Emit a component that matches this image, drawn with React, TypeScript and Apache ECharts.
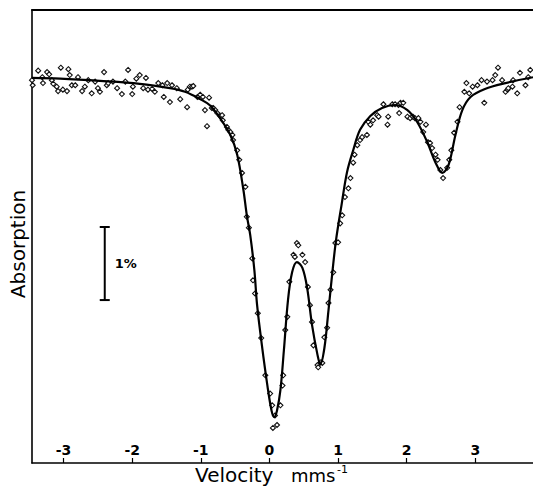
import React, { useEffect, useRef } from "react";
import * as echarts from "echarts";

// Velocity (mm/s) tick values
const velocityTicks = [-3, -2, -1, 0, 1, 2, 3];

// Fitted curve: [velocity mm/s, absorption %]
const fitCurve: [number, number][] = [
  [-3.46, 0.0], [-3.05, 0.01], [-2.47, 0.04], [-1.89, 0.08], [-1.45, 0.14],
  [-1.23, 0.19], [-1.01, 0.29], [-0.86, 0.38], [-0.72, 0.55], [-0.57, 0.78],
  [-0.47, 1.05], [-0.38, 1.53], [-0.33, 1.88], [-0.28, 2.15], [-0.22, 2.63],
  [-0.18, 3.11], [-0.11, 3.66], [-0.03, 4.21], [0.03, 4.55], [0.07, 4.64],
  [0.11, 4.55], [0.16, 4.27], [0.21, 3.73], [0.27, 3.04], [0.33, 2.66],
  [0.40, 2.52], [0.48, 2.60], [0.55, 2.88], [0.62, 3.38], [0.70, 3.79],
  [0.74, 3.92], [0.80, 3.70], [0.86, 3.18], [0.92, 2.63], [0.97, 2.22],
  [1.05, 1.74], [1.13, 1.29], [1.22, 0.99], [1.32, 0.71], [1.47, 0.52],
  [1.64, 0.41], [1.83, 0.37], [2.01, 0.44], [2.15, 0.60], [2.30, 0.88],
  [2.42, 1.16], [2.52, 1.30], [2.61, 1.19], [2.71, 0.78], [2.81, 0.44],
  [2.93, 0.26], [3.14, 0.15], [3.44, 0.07], [3.84, -0.01],
];

// Measured points: [velocity mm/s, absorption %]
const measured: [number, number][] = [
  [-3.46, 0.03], [-3.45, 0.10], [-3.37, -0.10], [-3.31, -0.01], [-3.30, 0.07],
  [-3.24, -0.08], [-3.21, -0.05], [-3.17, 0.03], [-3.15, 0.08], [-3.10, 0.12],
  [-3.08, 0.18], [-3.04, -0.14], [-3.01, 0.16], [-2.95, 0.18], [-2.93, -0.12],
  [-2.91, -0.04], [-2.88, 0.10], [-2.83, 0.10], [-2.79, -0.01], [-2.73, 0.18],
  [-2.69, 0.12], [-2.64, 0.03], [-2.59, 0.21], [-2.54, 0.05], [-2.50, 0.14],
  [-2.47, 0.19], [-2.41, -0.08], [-2.37, 0.10], [-2.35, 0.07], [-2.28, 0.05],
  [-2.22, 0.14], [-2.15, 0.22], [-2.10, 0.05], [-2.06, -0.11], [-2.00, 0.22],
  [-1.99, 0.12], [-1.94, 0.01], [-1.89, -0.04], [-1.84, 0.14], [-1.80, 0.00],
  [-1.77, 0.16], [-1.71, 0.15], [-1.67, 0.19], [-1.62, 0.07], [-1.56, 0.10],
  [-1.54, 0.26], [-1.49, 0.07], [-1.45, 0.33], [-1.42, 0.10], [-1.35, 0.14],
  [-1.30, 0.29], [-1.20, 0.40], [-1.19, 0.16], [-1.16, 0.12], [-1.13, 0.12],
  [-1.11, 0.11], [-1.05, 0.26], [-1.01, 0.23], [-0.97, 0.26], [-0.94, 0.44],
  [-0.91, 0.66], [-0.88, 0.27], [-0.84, 0.41], [-0.82, 0.41], [-0.79, 0.44],
  [-0.76, 0.48], [-0.72, 0.52], [-0.69, 0.51], [-0.68, 0.58], [-0.62, 0.67],
  [-0.60, 0.71], [-0.57, 0.74], [-0.54, 0.78], [-0.53, 0.85], [-0.47, 0.99],
  [-0.44, 1.12], [-0.40, 1.30], [-0.35, 1.49], [-0.33, 1.90], [-0.30, 2.05],
  [-0.25, 2.47], [-0.24, 2.77], [-0.21, 2.95], [-0.17, 3.22], [-0.12, 3.56],
  [-0.06, 4.07], [0.01, 4.32], [0.04, 4.48], [0.08, 4.62], [0.11, 4.75],
  [0.05, 4.79], [0.16, 4.48], [0.19, 4.21], [0.20, 4.07], [0.23, 3.45],
  [0.26, 3.27], [0.29, 2.79], [0.35, 2.42], [0.37, 2.45], [0.40, 2.26],
  [0.42, 2.29], [0.48, 2.42], [0.52, 2.52], [0.56, 2.86], [0.59, 3.11],
  [0.62, 3.34], [0.64, 3.66], [0.70, 3.93], [0.71, 3.96], [0.75, 3.89],
  [0.77, 3.90], [0.80, 3.55], [0.84, 3.42], [0.86, 3.08], [0.89, 2.90],
  [0.93, 2.66], [0.96, 2.26], [1.00, 2.25], [1.03, 1.99], [1.06, 1.88],
  [1.10, 1.63], [1.15, 1.51], [1.18, 1.37], [1.22, 1.16], [1.24, 1.05],
  [1.28, 0.92], [1.32, 0.85], [1.35, 0.81], [1.42, 0.78], [1.44, 0.60],
  [1.47, 0.64], [1.51, 0.58], [1.57, 0.51], [1.59, 0.53], [1.66, 0.36],
  [1.72, 0.64], [1.73, 0.53], [1.79, 0.36], [1.83, 0.36], [1.88, 0.37],
  [1.89, 0.48], [1.91, 0.34], [1.95, 0.34], [2.01, 0.53], [2.05, 0.55],
  [2.09, 0.53], [2.12, 0.55], [2.17, 0.55], [2.20, 0.60], [2.24, 0.74],
  [2.28, 0.64], [2.31, 0.88], [2.34, 0.89], [2.37, 0.96], [2.42, 1.05],
  [2.45, 1.12], [2.49, 1.26], [2.53, 1.37], [2.59, 1.23], [2.62, 1.12],
  [2.65, 0.99], [2.69, 0.75], [2.74, 0.60], [2.77, 0.40], [2.84, 0.19],
  [2.87, 0.07], [2.91, 0.21], [2.96, 0.12], [3.03, 0.10], [3.09, 0.03],
  [3.13, 0.34], [3.17, 0.05], [3.25, 0.03], [3.29, -0.04], [3.33, -0.14],
  [3.39, 0.03], [3.44, 0.19], [3.47, 0.16], [3.48, 0.14], [3.54, 0.12],
  [3.55, 0.03], [3.61, 0.21], [3.65, -0.07], [3.73, 0.10], [3.77, -0.01],
  [3.80, -0.11],
];

// Scale bar: [velocity, absorption from, absorption to] = 1 %
const scaleBar: [number, number, number][] = [[-2.4, 2.04, 3.04]];
const scaleBarLabel = "1%";

const xMin = -3.46;
const xMax = 3.84;
const yMin = -0.93;
const yMax = 5.27;

export default function App() {
  const ref = useRef<HTMLDivElement>(null);

  useEffect(() => {
    if (!ref.current) return;
    const chart = echarts.init(ref.current, undefined, { renderer: "svg" });
    const tickFont = { color: "#000", fontSize: 14, fontWeight: "bold" as const, fontFamily: "DejaVu Sans" };
    chart.setOption({
      animation: false,
      backgroundColor: "#fff",
      grid: { left: 32, right: 0, top: 10, bottom: 25 },
      xAxis: [
        {
          type: "value",
          min: xMin,
          max: xMax,
          position: "bottom",
          axisLine: { show: true, onZero: false, lineStyle: { color: "#000", width: 1.6 } },
          axisTick: { show: true, inside: true, length: 5, customValues: velocityTicks, lineStyle: { color: "#000", width: 1.2 } },
          axisLabel: { show: true, inside: true, margin: 6, customValues: velocityTicks, ...tickFont },
          splitLine: { show: false },
        },
        {
          type: "value",
          min: xMin,
          max: xMax,
          position: "top",
          axisLine: { show: true, onZero: false, lineStyle: { color: "#000", width: 2 } },
          axisTick: { show: false },
          axisLabel: { show: false },
          splitLine: { show: false },
        },
      ],
      yAxis: {
        type: "value",
        inverse: true,
        min: yMin,
        max: yMax,
        axisLine: { show: true, onZero: false, lineStyle: { color: "#000", width: 1.6 } },
        axisTick: { show: false },
        axisLabel: { show: false },
        splitLine: { show: false },
      },
      series: [
        {
          type: "scatter",
          xAxisIndex: 0,
          data: measured,
          symbol: "diamond",
          symbolSize: 5,
          itemStyle: { color: "#fff", borderColor: "#111", borderWidth: 1.1, opacity: 1 },
          z: 2,
        },
        {
          type: "line",
          xAxisIndex: 0,
          data: fitCurve,
          smooth: 0.35,
          showSymbol: false,
          lineStyle: { color: "#000", width: 2.2 },
          z: 3,
        },
        {
          type: "custom",
          xAxisIndex: 0,
          data: scaleBar,
          encode: { x: 0, y: [1, 2] },
          renderItem: (params: any, api: any) => {
            const top = api.coord([api.value(0), api.value(1)]);
            const bot = api.coord([api.value(0), api.value(2)]);
            const st = { stroke: "#000", lineWidth: 2 };
            return {
              type: "group",
              children: [
                { type: "line", shape: { x1: top[0], y1: top[1], x2: bot[0], y2: bot[1] }, style: st },
                { type: "line", shape: { x1: top[0] - 5, y1: top[1], x2: top[0] + 5, y2: top[1] }, style: st },
                { type: "line", shape: { x1: bot[0] - 5, y1: bot[1], x2: bot[0] + 5, y2: bot[1] }, style: st },
                {
                  type: "text",
                  x: top[0] + 10,
                  y: (top[1] + bot[1]) / 2,
                  style: {
                    text: scaleBarLabel,
                    fill: "#000",
                    fontSize: 13,
                    fontWeight: "bold",
                    fontFamily: "DejaVu Sans",
                    verticalAlign: "middle",
                    align: "left",
                  },
                },
              ],
            };
          },
          z: 4,
        },
      ],
      graphic: [
        {
          type: "text",
          left: 195,
          top: 465,
          style: { text: "Velocity", fill: "#000", fontSize: 20, fontFamily: "DejaVu Sans" },
        },
        {
          type: "text",
          left: 291,
          top: 466,
          style: { text: "mms", fill: "#000", fontSize: 18, fontFamily: "DejaVu Sans" },
        },
        {
          type: "text",
          left: 337,
          top: 464,
          style: { text: "-1", fill: "#000", fontSize: 11, fontFamily: "DejaVu Sans" },
        },
        {
          type: "text",
          x: 18,
          y: 244,
          rotation: Math.PI / 2,
          style: {
            text: "Absorption",
            fill: "#000",
            fontSize: 20,
            fontFamily: "DejaVu Sans",
            align: "center",
            verticalAlign: "middle",
          },
        },
      ],
    });
    return () => chart.dispose();
  }, []);

  return (
    <div
      ref={ref}
      style={{ position: "fixed", left: 0, top: 0, width: 533, height: 488, background: "#fff" }}
    />
  );
}
